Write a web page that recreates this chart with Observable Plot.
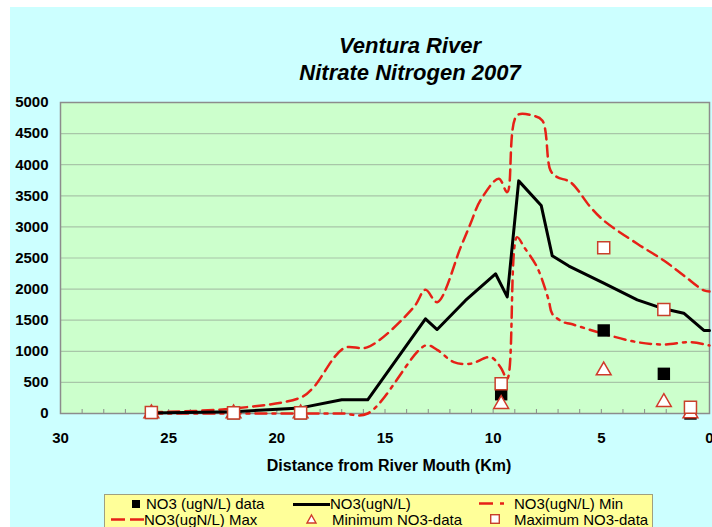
<!DOCTYPE html>
<html><head><meta charset="utf-8">
<script src="https://cdn.jsdelivr.net/npm/d3@7"></script>
<script src="https://cdn.jsdelivr.net/npm/@observablehq/plot@0.6"></script>
<style>
html,body{margin:0;padding:0;background:#fff;width:712px;height:527px;overflow:hidden;font-family:"Liberation Sans",Arial,sans-serif;}
#bg{position:absolute;left:10px;top:7px;width:702px;height:520px;background:#ccffff;}
#chart{position:absolute;left:0;top:0;}
.title{position:absolute;left:0;width:820px;text-align:center;font-weight:bold;font-style:italic;font-size:22px;line-height:22px;color:#000;}
#xlabel{position:absolute;left:0;width:778px;top:458px;text-align:center;font-weight:bold;font-size:16px;line-height:16px;}
#legend{position:absolute;left:104px;top:494px;width:547px;height:40px;background:#ffff99;border:1px solid #a0a080;}
#legend .t{position:absolute;font-size:15px;line-height:15px;white-space:nowrap;}
#legend svg{position:absolute;overflow:visible;}
</style></head>
<body>
<div id="bg"></div>
<div class="title" style="top:35px">Ventura River</div>
<div class="title" style="top:62px">Nitrate Nitrogen 2007</div>
<div id="chart"></div>
<div id="xlabel">Distance from River Mouth (Km)</div>
<div id="legend">
  <svg style="left:27px;top:5px" width="9" height="9"><rect x="0" y="0" width="8" height="8" fill="#000"/></svg>
  <span class="t" style="left:41px;top:1px">NO3 (ugN/L) data</span>
  <svg style="left:188px;top:8px" width="37" height="3"><line x1="0" y1="1.5" x2="37" y2="1.5" stroke="#000" stroke-width="3"/></svg>
  <span class="t" style="left:225px;top:1px">NO3(ugN/L)</span>
  <svg style="left:374px;top:7px" width="26" height="3"><line x1="0" y1="1.5" x2="26" y2="1.5" stroke="#e62117" stroke-width="2.5" stroke-dasharray="14,7,4,7"/></svg>
  <span class="t" style="left:409px;top:1px">NO3(ugN/L) Min</span>
  <svg style="left:6px;top:23px" width="33" height="3"><line x1="0" y1="1.5" x2="33" y2="1.5" stroke="#e62117" stroke-width="2.5" stroke-dasharray="14,5"/></svg>
  <span class="t" style="left:39px;top:17px">NO3(ugN/L) Max</span>
  <svg style="left:201px;top:19px" width="11" height="10"><polygon points="5.5,1 10,9 1,9" fill="#fff" stroke="#d03a2a" stroke-width="1.4"/></svg>
  <span class="t" style="left:227px;top:17px">Minimum NO3-data</span>
  <svg style="left:385px;top:19px" width="10" height="10"><rect x="0.7" y="0.7" width="8.6" height="8.6" fill="#fff" stroke="#c8402a" stroke-width="1.4"/></svg>
  <span class="t" style="left:409px;top:17px">Maximum NO3-data</span>
</div>
<script>
// Model lines (distance from river mouth in km, NO3 in ugN/L)
const meanKm  = [25.8, 22, 18.9, 17, 15.8, 13.13, 12.59, 11.28, 9.89, 9.35, 8.82, 7.78, 7.27, 6.5, 4.89, 3.34, 2.11, 1.19, 0.26, 0];
const meanNO3 = [10, 30, 90, 220, 220, 1522, 1350, 1817, 2246, 1875, 3740, 3345, 2535, 2370, 2095, 1828, 1683, 1613, 1335, 1335];

const maxKm  = [25.8, 22, 18.9, 18.3, 16.9, 15.8, 13.67, 13.13, 12.59, 11.5, 11.05, 10.59, 9.74, 9.35, 8.9, 8.2, 7.73, 7.35, 7.04, 6.43, 5.5, 4.89, 3.34, 2.11, 1.19, 0.26, 0];
const maxNO3 = [20, 80, 257, 423, 1050, 1066, 1710, 1989, 1790, 2675, 3050, 3425, 3774, 3559, 4792, 4792, 4712, 3908, 3800, 3720, 3317, 3103, 2729, 2460, 2219, 1978, 1960];

const minKm  = [25.8, 22, 18.9, 17, 15.8, 13.13, 12.59, 11.82, 11.05, 10.12, 9.66, 9.35, 8.9, 8.57, 7.97, 7.43, 7.27, 6.74, 6.43, 4.89, 3.34, 2.11, 0.88, 0];
const minNO3 = [0, 0, 0, 0, 0, 1093, 1024, 826, 800, 906, 745, 560, 2835, 2675, 2352, 1817, 1603, 1468, 1442, 1281, 1147, 1110, 1147, 1093];

// Sampled data
const sampleKm   = [25.8, 22.0, 18.9, 9.63, 4.89, 2.11, 0.88];
const sampleNO3  = [10, 5, 5, 310, 1335, 638, 0];
const sampleMin  = [0, 0, 0, 150, 690, 182, 0];
const sampleMax  = [15, 10, 10, 477, 2664, 1672, 100];

// Axis ticks
const xLabelTicks = [30, 25, 20, 15, 10, 5, 0];
const xMinorTicks = d3.range(0, 31, 1);
const yTicks = [0, 500, 1000, 1500, 2000, 2500, 3000, 3500, 4000, 4500, 5000];

const meanData = meanKm.map((k, i) => ({km: k, v: meanNO3[i]}));
const maxData = maxKm.map((k, i) => ({km: k, v: maxNO3[i]}));
const minData = minKm.map((k, i) => ({km: k, v: minNO3[i]}));
const samples = sampleKm.map((k, i) => ({km: k, no3: sampleNO3[i], mn: sampleMin[i], mx: sampleMax[i]}));

const red = "#e62117";

const chart = Plot.plot({
  width: 712,
  height: 480,
  marginLeft: 60,
  marginRight: 3,
  marginTop: 102,
  marginBottom: 67,
  style: {fontFamily: "'Liberation Sans', Arial, sans-serif", background: "transparent", overflow: "visible", color: "#000"},
  x: {domain: [30, 0]},
  y: {domain: [0, 5000]},
  marks: [
    Plot.frame({fill: "#ccffcc"}),
    Plot.gridY(yTicks.slice(1, -1), {stroke: "#a8c6a8", strokeOpacity: 1, strokeWidth: 1.2}),
    Plot.axisY({ticks: yTicks, tickFormat: d3.format("d"), tickSize: 0, tickPadding: 12, fontSize: 15, fontWeight: "bold", label: null}),
    Plot.axisX({ticks: xMinorTicks, tickSize: 4, dy: -4, tickFormat: () => "", stroke: "#8a8a8a", label: null}),
    Plot.axisX({ticks: xLabelTicks, tickFormat: d3.format("d"), tickSize: 0, tickPadding: 19, fontSize: 15, fontWeight: "bold", label: null}),
    Plot.frame({stroke: "#8c8c8c", strokeWidth: 1.5}),
    Plot.line(maxData, {x: "km", y: "v", stroke: red, strokeWidth: 2.5, strokeDasharray: "11,6", curve: "catmull-rom"}),
    Plot.line(minData, {x: "km", y: "v", stroke: red, strokeWidth: 2.5, strokeDasharray: "11,6,3,6", curve: "catmull-rom"}),
    Plot.line(meanData, {x: "km", y: "v", stroke: "#000", strokeWidth: 3}),
    Plot.dot(samples, {x: "km", y: "no3", symbol: "square", r: 7, fill: "#000", stroke: "none"}),
    Plot.dot(samples, {x: "km", y: "mn", symbol: "triangle", r: 5.5, fill: "#fff", stroke: "#d03a2a", strokeWidth: 1.5}),
    Plot.dot(samples, {x: "km", y: "mx", symbol: "square", r: 6.8, fill: "#fff", stroke: "#c8402a", strokeWidth: 1.5})
  ]
});
document.getElementById("chart").appendChild(chart);
</script>
</body></html>
